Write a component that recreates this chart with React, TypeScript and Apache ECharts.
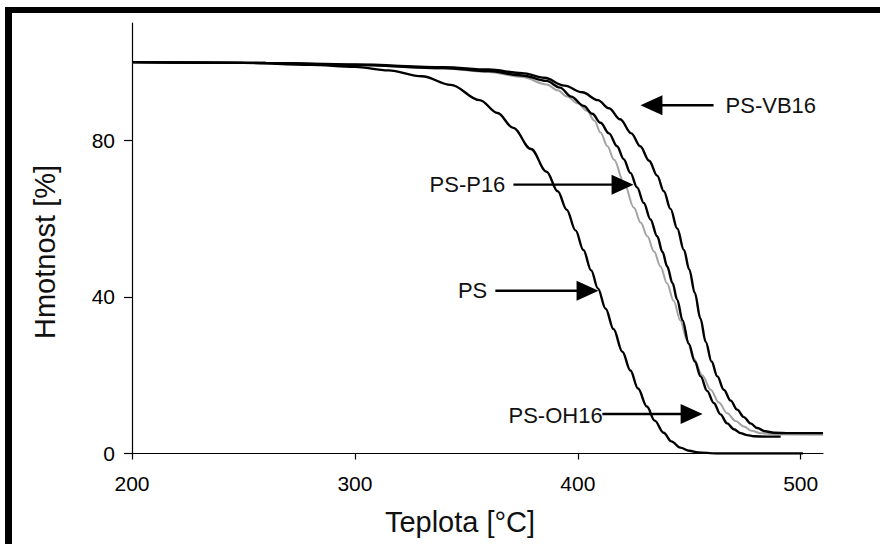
import React, { useEffect, useRef } from "react";
import * as echarts from "echarts";

const X_TICKS = [200, 300, 400, 500];
const Y_TICKS = [0, 40, 80];
const X_TITLE = "Teplota [°C]";
const Y_TITLE = "Hmotnost [%]";

const PS: number[][] = [
  [200, 100], [250, 99.8], [280, 99.3], [300, 98.8], [315, 97.9], [330, 96.4], [343, 94.2],
  [356, 90.3], [364, 87], [371, 83.2], [379, 77.8], [386, 72], [391, 67], [395, 62.3], [399, 57],
  [402.5, 52], [406, 46.8], [409, 42.2], [412.5, 37], [416, 31.8], [420, 26], [423.6, 21.2],
  [427, 16.6], [431, 12], [434.5, 8.4], [438.5, 5.3], [442, 3.1], [446, 1.5], [450, 0.7],
  [454, 0.3], [462, 0], [501, 0],
];

const PS_VB16: number[][] = [
  [200, 100], [260, 99.8], [300, 99.4], [340, 98.7], [360, 98.1], [375, 97.2], [385, 96],
  [394, 94], [402, 92.3], [409, 90.3], [414, 88.2], [419, 85.4], [424, 81.8], [428, 78.5],
  [432, 74.8], [435.6, 71], [438.6, 67], [441.6, 62.5], [444.6, 57.5], [447.6, 52], [450, 47],
  [452.5, 41], [455, 34.5], [457.4, 28.5], [460, 23.5], [462.6, 19.7], [465.5, 16.3],
  [468.6, 13.5], [471.5, 11.2], [474.5, 9.3], [477.5, 7.7], [480.5, 6.5], [484, 5.7],
  [488, 5.3], [495, 5.2], [510, 5.2],
];

const PS_P16: number[][] = [
  [200, 100], [260, 99.8], [300, 99.3], [340, 98.5], [360, 97.7], [375, 96.6], [386, 95.2],
  [392, 93.5], [397, 91.2], [402.7, 88.8], [406.5, 86.8], [410.2, 84.5], [414, 81.8],
  [417.6, 78.5], [420.6, 75.2], [423.6, 71.7], [426.6, 68], [429.6, 64], [432.6, 59.8],
  [435.6, 55.5], [438, 51.5], [440.1, 47.8], [442.5, 43.5], [444.6, 39.3], [447, 34],
  [449.8, 28], [452.5, 23.5], [455.1, 19.7], [458, 16], [461, 12.9], [464, 10], [467, 7.7],
  [470, 6.2], [473, 5.2], [476, 4.7], [479, 4.4], [485, 4.3], [491, 4.3],
];

const PS_OH16: number[][] = [
  [200, 100], [260, 99.8], [300, 99.3], [340, 98.4], [360, 97.5], [375, 96.2], [386, 94.3],
  [391, 92.8], [395.2, 91.2], [400, 89.5], [404.2, 87.5], [407.5, 85], [410.2, 82],
  [413.3, 78.5], [416.2, 75.1], [420.7, 69.2], [425.2, 62.8], [428.2, 59], [431.2, 55.5],
  [434.2, 51.6], [437.1, 47.8], [440, 43.5], [443, 39], [446, 34], [449, 29], [452, 24.3],
  [455.8, 20], [459.6, 16.3], [463.3, 13], [467, 10.3], [470.8, 8.3], [474.5, 6.9],
  [478, 5.8], [482, 5.2], [488, 4.9], [510, 4.8],
];

// annotation: label text, text anchor (data), arrow tail and tip (data)
const NOTES = [
  { text: "PS-VB16", at: [466.3, 89.0], align: "left", tail: [460.9, 89.0], tip: [428.1, 89.0] },
  { text: "PS-P16", at: [367.5, 68.7], align: "right", tail: [371.1, 68.7], tip: [425.0, 68.7] },
  { text: "PS", at: [359.4, 41.6], align: "right", tail: [363.0, 41.6], tip: [409.3, 41.6] },
  { text: "PS-OH16", at: [368.9, 9.6], align: "left", tail: [411.0, 10.1], tip: [456.0, 10.1] },
];

const FONT = "'Liberation Sans', Arial, sans-serif";

export default function App() {
  const ref = useRef<HTMLDivElement>(null);
  useEffect(() => {
    if (!ref.current) return;
    const chart = echarts.init(ref.current, null, { renderer: "svg" });
    const mk = (name: string, data: number[][], color: string, width: number, z: number) => ({
      name,
      type: "line",
      data,
      smooth: 0.35,
      smoothMonotone: "x",
      showSymbol: false,
      symbol: "none",
      z,
      lineStyle: { color, width },
    });
    chart.setOption({
      animation: false,
      backgroundColor: "#fff",
      grid: { left: 132, right: 57, top: 23, bottom: 90.5 },
      xAxis: {
        type: "value",
        min: 200,
        max: 510,
        splitLine: { show: false },
        axisLine: { lineStyle: { color: "#000", width: 1.2 } },
        axisTick: { length: 6, lineStyle: { color: "#000", width: 1.2 }, customValues: X_TICKS },
        axisLabel: { customValues: X_TICKS, color: "#000", fontSize: 21, fontFamily: FONT, margin: 19 },
      },
      yAxis: {
        type: "value",
        min: 0,
        max: 110,
        splitLine: { show: false },
        axisLine: { show: true, lineStyle: { color: "#000", width: 1.2 } },
        axisTick: { show: true, length: 8, lineStyle: { color: "#000", width: 1.2 }, customValues: Y_TICKS },
        axisLabel: { customValues: Y_TICKS, color: "#000", fontSize: 21, fontFamily: FONT, margin: 17 },
      },
      series: [
        mk("PS-OH16", PS_OH16, "#a3a3a3", 2, 1),
        mk("PS", PS, "#000", 2.4, 2),
        mk("PS-P16", PS_P16, "#000", 2.4, 2),
        mk("PS-VB16", PS_VB16, "#000", 2.4, 2),
      ],
    });
    const px = (p: number[]) => chart.convertToPixel({ gridIndex: 0 }, p) as number[];
    const graphics: any[] = [
      { type: "rect", shape: { x: 5, y: 7, width: 880, height: 6 }, style: { fill: "#000" }, z: 100 },
      { type: "rect", shape: { x: 5, y: 7, width: 7, height: 540 }, style: { fill: "#000" }, z: 100 },
      {
        type: "text", x: 460, y: 522, z: 100,
        style: { text: X_TITLE, fontSize: 29, fontFamily: FONT, fill: "#111", align: "center", verticalAlign: "middle" },
      },
      {
        type: "text", x: 45, y: 252, rotation: Math.PI / 2, z: 100,
        style: { text: Y_TITLE, fontSize: 29, fontFamily: FONT, fill: "#111", align: "center", verticalAlign: "middle" },
      },
    ];
    NOTES.forEach((n) => {
      const a = px(n.at);
      const s = px(n.tail);
      const t = px(n.tip);
      const d = Math.sign(t[0] - s[0]);
      const hl = 22;
      const hw = 10;
      graphics.push({
        type: "line", z: 90,
        shape: { x1: s[0], y1: s[1], x2: t[0] - d * (hl - 3), y2: t[1] },
        style: { stroke: "#000", lineWidth: 2.4 },
      });
      graphics.push({
        type: "polygon", z: 90,
        shape: { points: [[t[0], t[1]], [t[0] - d * hl, t[1] - hw], [t[0] - d * hl, t[1] + hw]] },
        style: { fill: "#000" },
      });
      graphics.push({
        type: "text", x: a[0], y: a[1], z: 95,
        style: { text: n.text, fontSize: 22, fontFamily: FONT, fill: "#111", align: n.align, verticalAlign: "middle" },
      });
    });
    chart.setOption({ graphic: graphics });
    return () => chart.dispose();
  }, []);
  return <div ref={ref} style={{ position: "absolute", left: 0, top: 0, width: 880, height: 544 }} />;
}
